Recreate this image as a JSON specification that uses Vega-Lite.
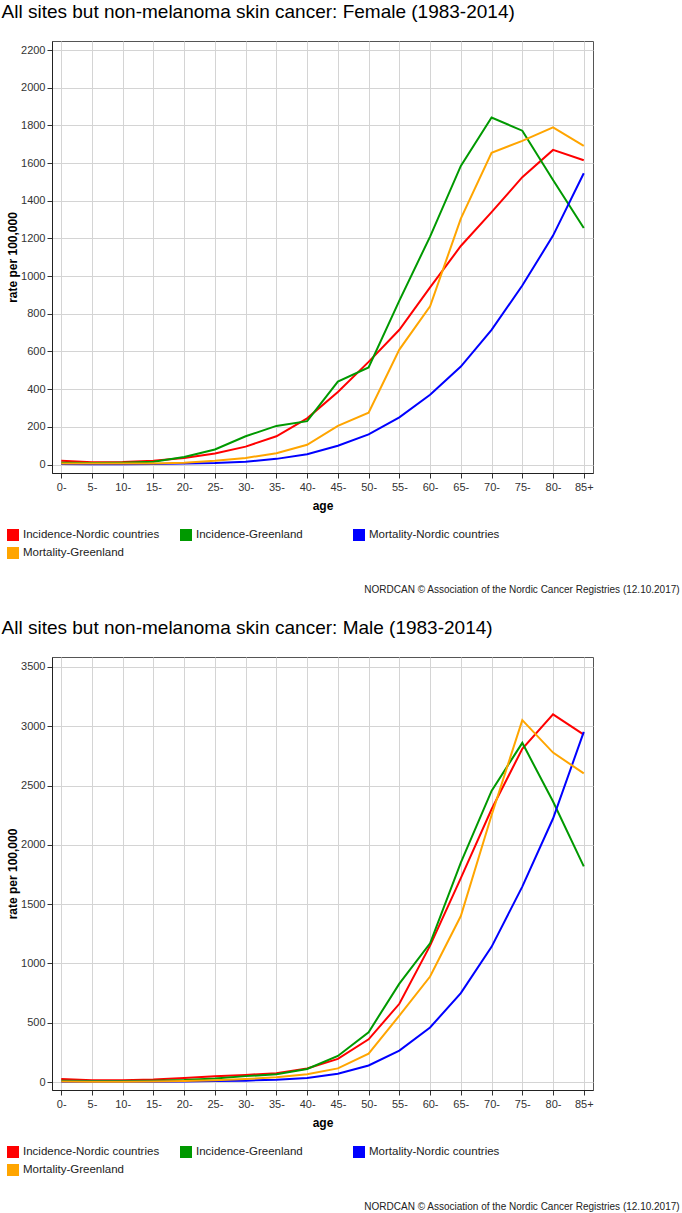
{
  "$schema": "https://vega.github.io/schema/vega-lite/v6.json",
  "padding": {"left": 1, "top": 2, "right": 0, "bottom": 2},
  "background": "white",
  "config": {
    "font": "Liberation Sans",
    "view": {"stroke": "#555", "strokeWidth": 1},
    "axis": {
      "domainColor": "#222",
      "tickColor": "#333",
      "tickSize": 5,
      "labelFontSize": 11,
      "labelColor": "#333",
      "labelFont": "Liberation Sans",
      "titleFont": "Liberation Sans",
      "titleFontSize": 12,
      "titleFontWeight": "bold",
      "titleColor": "#000",
      "grid": true,
      "gridColor": "#d4d4d4",
      "gridWidth": 1
    },
    "legend": {
      "labelFont": "Liberation Sans",
      "labelFontSize": 11.5,
      "labelColor": "#222"
    }
  },
  "datasets": {
    "female": [
      {"age": "0-", "series": "Incidence-Nordic countries", "rate": 20},
      {"age": "5-", "series": "Incidence-Nordic countries", "rate": 12},
      {"age": "10-", "series": "Incidence-Nordic countries", "rate": 13},
      {"age": "15-", "series": "Incidence-Nordic countries", "rate": 20},
      {"age": "20-", "series": "Incidence-Nordic countries", "rate": 35},
      {"age": "25-", "series": "Incidence-Nordic countries", "rate": 58},
      {"age": "30-", "series": "Incidence-Nordic countries", "rate": 95},
      {"age": "35-", "series": "Incidence-Nordic countries", "rate": 150},
      {"age": "40-", "series": "Incidence-Nordic countries", "rate": 245},
      {"age": "45-", "series": "Incidence-Nordic countries", "rate": 385},
      {"age": "50-", "series": "Incidence-Nordic countries", "rate": 545},
      {"age": "55-", "series": "Incidence-Nordic countries", "rate": 715},
      {"age": "60-", "series": "Incidence-Nordic countries", "rate": 940},
      {"age": "65-", "series": "Incidence-Nordic countries", "rate": 1160},
      {"age": "70-", "series": "Incidence-Nordic countries", "rate": 1340},
      {"age": "75-", "series": "Incidence-Nordic countries", "rate": 1525},
      {"age": "80-", "series": "Incidence-Nordic countries", "rate": 1670},
      {"age": "85+", "series": "Incidence-Nordic countries", "rate": 1615},
      {"age": "0-", "series": "Incidence-Greenland", "rate": 10},
      {"age": "5-", "series": "Incidence-Greenland", "rate": 8},
      {"age": "10-", "series": "Incidence-Greenland", "rate": 10},
      {"age": "15-", "series": "Incidence-Greenland", "rate": 15},
      {"age": "20-", "series": "Incidence-Greenland", "rate": 40},
      {"age": "25-", "series": "Incidence-Greenland", "rate": 80},
      {"age": "30-", "series": "Incidence-Greenland", "rate": 150},
      {"age": "35-", "series": "Incidence-Greenland", "rate": 205},
      {"age": "40-", "series": "Incidence-Greenland", "rate": 230},
      {"age": "45-", "series": "Incidence-Greenland", "rate": 440},
      {"age": "50-", "series": "Incidence-Greenland", "rate": 515},
      {"age": "55-", "series": "Incidence-Greenland", "rate": 870},
      {"age": "60-", "series": "Incidence-Greenland", "rate": 1210},
      {"age": "65-", "series": "Incidence-Greenland", "rate": 1585},
      {"age": "70-", "series": "Incidence-Greenland", "rate": 1842},
      {"age": "75-", "series": "Incidence-Greenland", "rate": 1772},
      {"age": "80-", "series": "Incidence-Greenland", "rate": 1510},
      {"age": "85+", "series": "Incidence-Greenland", "rate": 1255},
      {"age": "0-", "series": "Mortality-Nordic countries", "rate": 3},
      {"age": "5-", "series": "Mortality-Nordic countries", "rate": 2},
      {"age": "10-", "series": "Mortality-Nordic countries", "rate": 2},
      {"age": "15-", "series": "Mortality-Nordic countries", "rate": 3},
      {"age": "20-", "series": "Mortality-Nordic countries", "rate": 5},
      {"age": "25-", "series": "Mortality-Nordic countries", "rate": 8},
      {"age": "30-", "series": "Mortality-Nordic countries", "rate": 15},
      {"age": "35-", "series": "Mortality-Nordic countries", "rate": 30},
      {"age": "40-", "series": "Mortality-Nordic countries", "rate": 55},
      {"age": "45-", "series": "Mortality-Nordic countries", "rate": 100},
      {"age": "50-", "series": "Mortality-Nordic countries", "rate": 160},
      {"age": "55-", "series": "Mortality-Nordic countries", "rate": 250},
      {"age": "60-", "series": "Mortality-Nordic countries", "rate": 370},
      {"age": "65-", "series": "Mortality-Nordic countries", "rate": 520},
      {"age": "70-", "series": "Mortality-Nordic countries", "rate": 715},
      {"age": "75-", "series": "Mortality-Nordic countries", "rate": 950},
      {"age": "80-", "series": "Mortality-Nordic countries", "rate": 1215},
      {"age": "85+", "series": "Mortality-Nordic countries", "rate": 1546},
      {"age": "0-", "series": "Mortality-Greenland", "rate": 5},
      {"age": "5-", "series": "Mortality-Greenland", "rate": 5},
      {"age": "10-", "series": "Mortality-Greenland", "rate": 5},
      {"age": "15-", "series": "Mortality-Greenland", "rate": 5},
      {"age": "20-", "series": "Mortality-Greenland", "rate": 10},
      {"age": "25-", "series": "Mortality-Greenland", "rate": 20},
      {"age": "30-", "series": "Mortality-Greenland", "rate": 35},
      {"age": "35-", "series": "Mortality-Greenland", "rate": 60},
      {"age": "40-", "series": "Mortality-Greenland", "rate": 105},
      {"age": "45-", "series": "Mortality-Greenland", "rate": 205},
      {"age": "50-", "series": "Mortality-Greenland", "rate": 275},
      {"age": "55-", "series": "Mortality-Greenland", "rate": 610},
      {"age": "60-", "series": "Mortality-Greenland", "rate": 840},
      {"age": "65-", "series": "Mortality-Greenland", "rate": 1305},
      {"age": "70-", "series": "Mortality-Greenland", "rate": 1655},
      {"age": "75-", "series": "Mortality-Greenland", "rate": 1718},
      {"age": "80-", "series": "Mortality-Greenland", "rate": 1790},
      {"age": "85+", "series": "Mortality-Greenland", "rate": 1691}
    ],
    "male": [
      {"age": "0-", "series": "Incidence-Nordic countries", "rate": 25},
      {"age": "5-", "series": "Incidence-Nordic countries", "rate": 15},
      {"age": "10-", "series": "Incidence-Nordic countries", "rate": 15},
      {"age": "15-", "series": "Incidence-Nordic countries", "rate": 22},
      {"age": "20-", "series": "Incidence-Nordic countries", "rate": 35},
      {"age": "25-", "series": "Incidence-Nordic countries", "rate": 48},
      {"age": "30-", "series": "Incidence-Nordic countries", "rate": 60},
      {"age": "35-", "series": "Incidence-Nordic countries", "rate": 75},
      {"age": "40-", "series": "Incidence-Nordic countries", "rate": 115},
      {"age": "45-", "series": "Incidence-Nordic countries", "rate": 195},
      {"age": "50-", "series": "Incidence-Nordic countries", "rate": 360},
      {"age": "55-", "series": "Incidence-Nordic countries", "rate": 660},
      {"age": "60-", "series": "Incidence-Nordic countries", "rate": 1150},
      {"age": "65-", "series": "Incidence-Nordic countries", "rate": 1720},
      {"age": "70-", "series": "Incidence-Nordic countries", "rate": 2300},
      {"age": "75-", "series": "Incidence-Nordic countries", "rate": 2810},
      {"age": "80-", "series": "Incidence-Nordic countries", "rate": 3100},
      {"age": "85+", "series": "Incidence-Nordic countries", "rate": 2930},
      {"age": "0-", "series": "Incidence-Greenland", "rate": 10},
      {"age": "5-", "series": "Incidence-Greenland", "rate": 8},
      {"age": "10-", "series": "Incidence-Greenland", "rate": 8},
      {"age": "15-", "series": "Incidence-Greenland", "rate": 12},
      {"age": "20-", "series": "Incidence-Greenland", "rate": 18},
      {"age": "25-", "series": "Incidence-Greenland", "rate": 30},
      {"age": "30-", "series": "Incidence-Greenland", "rate": 50},
      {"age": "35-", "series": "Incidence-Greenland", "rate": 65},
      {"age": "40-", "series": "Incidence-Greenland", "rate": 110},
      {"age": "45-", "series": "Incidence-Greenland", "rate": 220},
      {"age": "50-", "series": "Incidence-Greenland", "rate": 420},
      {"age": "55-", "series": "Incidence-Greenland", "rate": 830},
      {"age": "60-", "series": "Incidence-Greenland", "rate": 1170},
      {"age": "65-", "series": "Incidence-Greenland", "rate": 1850},
      {"age": "70-", "series": "Incidence-Greenland", "rate": 2455},
      {"age": "75-", "series": "Incidence-Greenland", "rate": 2860},
      {"age": "80-", "series": "Incidence-Greenland", "rate": 2365},
      {"age": "85+", "series": "Incidence-Greenland", "rate": 1818},
      {"age": "0-", "series": "Mortality-Nordic countries", "rate": 3},
      {"age": "5-", "series": "Mortality-Nordic countries", "rate": 2},
      {"age": "10-", "series": "Mortality-Nordic countries", "rate": 2},
      {"age": "15-", "series": "Mortality-Nordic countries", "rate": 3},
      {"age": "20-", "series": "Mortality-Nordic countries", "rate": 5},
      {"age": "25-", "series": "Mortality-Nordic countries", "rate": 8},
      {"age": "30-", "series": "Mortality-Nordic countries", "rate": 12},
      {"age": "35-", "series": "Mortality-Nordic countries", "rate": 20},
      {"age": "40-", "series": "Mortality-Nordic countries", "rate": 35},
      {"age": "45-", "series": "Mortality-Nordic countries", "rate": 70},
      {"age": "50-", "series": "Mortality-Nordic countries", "rate": 140},
      {"age": "55-", "series": "Mortality-Nordic countries", "rate": 265},
      {"age": "60-", "series": "Mortality-Nordic countries", "rate": 460},
      {"age": "65-", "series": "Mortality-Nordic countries", "rate": 750},
      {"age": "70-", "series": "Mortality-Nordic countries", "rate": 1140},
      {"age": "75-", "series": "Mortality-Nordic countries", "rate": 1648},
      {"age": "80-", "series": "Mortality-Nordic countries", "rate": 2222},
      {"age": "85+", "series": "Mortality-Nordic countries", "rate": 2952},
      {"age": "0-", "series": "Mortality-Greenland", "rate": 5},
      {"age": "5-", "series": "Mortality-Greenland", "rate": 3},
      {"age": "10-", "series": "Mortality-Greenland", "rate": 3},
      {"age": "15-", "series": "Mortality-Greenland", "rate": 5},
      {"age": "20-", "series": "Mortality-Greenland", "rate": 8},
      {"age": "25-", "series": "Mortality-Greenland", "rate": 15},
      {"age": "30-", "series": "Mortality-Greenland", "rate": 25},
      {"age": "35-", "series": "Mortality-Greenland", "rate": 40},
      {"age": "40-", "series": "Mortality-Greenland", "rate": 65},
      {"age": "45-", "series": "Mortality-Greenland", "rate": 115},
      {"age": "50-", "series": "Mortality-Greenland", "rate": 240},
      {"age": "55-", "series": "Mortality-Greenland", "rate": 560},
      {"age": "60-", "series": "Mortality-Greenland", "rate": 890},
      {"age": "65-", "series": "Mortality-Greenland", "rate": 1400},
      {"age": "70-", "series": "Mortality-Greenland", "rate": 2250},
      {"age": "75-", "series": "Mortality-Greenland", "rate": 3052},
      {"age": "80-", "series": "Mortality-Greenland", "rate": 2778},
      {"age": "85+", "series": "Mortality-Greenland", "rate": 2603}
    ]
  },
  "spacing": 23,
  "resolve": {"scale": {"color": "independent", "y": "independent", "x": "independent"}},
  "vconcat": [
    {
      "title": {"text": "NORDCAN © Association of the Nordic Cancer Registries (12.10.2017)", "orient": "bottom", "anchor": "end", "frame": "bounds", "fontSize": 10, "fontWeight": "normal", "color": "#222", "dx": 86, "offset": 26},
      "vconcat": [
        {
          "title": {"text": "All sites but non-melanoma skin cancer: Female (1983-2014)", "anchor": "start", "frame": "bounds", "fontSize": 19, "fontWeight": "normal", "color": "#000", "offset": 19, "dx": -5},
          "width": 541,
          "height": 432,
          "data": {"name": "female"},
          "mark": {"type": "line", "strokeWidth": 2},
          "encoding": {
            "x": {"field": "age", "type": "ordinal",
              "scale": {"type": "point", "padding": 0.3, "domain": ["0-","5-","10-","15-","20-","25-","30-","35-","40-","45-","50-","55-","60-","65-","70-","75-","80-","85+"]},
              "axis": {"title": "age", "labelAngle": 0, "labelPadding": 3, "titlePadding": 8}},
            "y": {"field": "rate", "type": "quantitative",
              "scale": {"domain": [-45, 2248], "nice": false, "zero": false},
              "axis": {"title": "rate per 100,000", "format": "d", "values": [0,200,400,600,800,1000,1200,1400,1600,1800,2000,2200], "titlePadding": 1, "labelPadding": 2}},
            "color": {"field": "series", "type": "nominal",
              "scale": {"domain": ["Incidence-Nordic countries", "Incidence-Greenland", "Mortality-Nordic countries", "Mortality-Greenland"], "range": ["#ff0000", "#009900", "#0000ff", "#ffa500"]},
              "legend": {"title": null, "orient": "none", "legendX": -45, "legendY": 488, "columns": 3, "direction": "horizontal", "symbolType": "square", "symbolSize": 144, "symbolStrokeWidth": 0, "columnPadding": 20, "rowPadding": 6, "gridAlign": "all",
                "encode": {"symbols": {"update": {"fill": {"signal": "datum.value === 'Incidence-Nordic countries' ? '#ff0000' : datum.value === 'Incidence-Greenland' ? '#009900' : datum.value === 'Mortality-Nordic countries' ? '#0000ff' : '#ffa500'"}, "opacity": {"value": 1}}}}}}
          }
        }
      ]
    },
    {
      "title": {"text": "NORDCAN © Association of the Nordic Cancer Registries (12.10.2017)", "orient": "bottom", "anchor": "end", "frame": "bounds", "fontSize": 10, "fontWeight": "normal", "color": "#222", "dx": 86, "offset": 26},
      "vconcat": [
        {
          "title": {"text": "All sites but non-melanoma skin cancer: Male (1983-2014)", "anchor": "start", "frame": "bounds", "fontSize": 19, "fontWeight": "normal", "color": "#000", "offset": 19, "dx": -5},
          "width": 541,
          "height": 433,
          "data": {"name": "male"},
          "mark": {"type": "line", "strokeWidth": 2},
          "encoding": {
            "x": {"field": "age", "type": "ordinal",
              "scale": {"type": "point", "padding": 0.3, "domain": ["0-","5-","10-","15-","20-","25-","30-","35-","40-","45-","50-","55-","60-","65-","70-","75-","80-","85+"]},
              "axis": {"title": "age", "labelAngle": 0, "labelPadding": 3, "titlePadding": 8}},
            "y": {"field": "rate", "type": "quantitative",
              "scale": {"domain": [-67, 3584], "nice": false, "zero": false},
              "axis": {"title": "rate per 100,000", "format": "d", "values": [0,500,1000,1500,2000,2500,3000,3500], "titlePadding": 1, "labelPadding": 2}},
            "color": {"field": "series", "type": "nominal",
              "scale": {"domain": ["Incidence-Nordic countries", "Incidence-Greenland", "Mortality-Nordic countries", "Mortality-Greenland"], "range": ["#ff0000", "#009900", "#0000ff", "#ffa500"]},
              "legend": {"title": null, "orient": "none", "legendX": -45, "legendY": 489, "columns": 3, "direction": "horizontal", "symbolType": "square", "symbolSize": 144, "symbolStrokeWidth": 0, "columnPadding": 20, "rowPadding": 6, "gridAlign": "all",
                "encode": {"symbols": {"update": {"fill": {"signal": "datum.value === 'Incidence-Nordic countries' ? '#ff0000' : datum.value === 'Incidence-Greenland' ? '#009900' : datum.value === 'Mortality-Nordic countries' ? '#0000ff' : '#ffa500'"}, "opacity": {"value": 1}}}}}}
          }
        }
      ]
    }
  ]
}
